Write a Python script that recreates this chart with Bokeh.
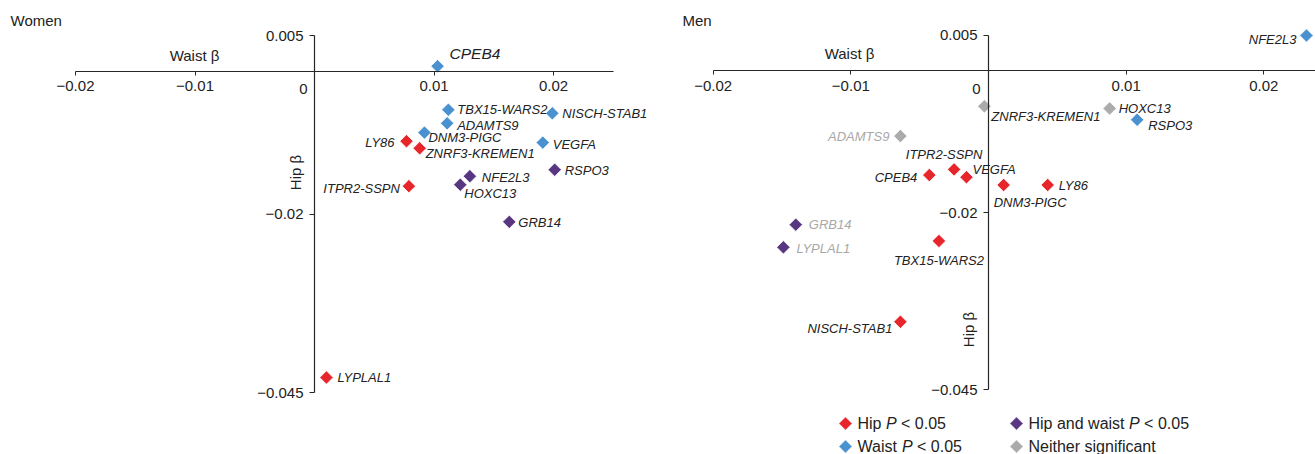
import numpy as np
from bokeh.plotting import figure
from bokeh.models import Range1d, FixedTicker, Label, ColumnDataSource
from bokeh.layouts import row
from bokeh.core.properties import value
from bokeh.embed import file_html
from bokeh.resources import INLINE

FONT = "Liberation Sans"

# ---------------- data ----------------
category_colors = {"hip": "#E6262B", "waist": "#4A92CF", "both": "#583681", "neither": "#ABABAB"}

women_genes = ["CPEB4", "TBX15-WARS2", "NISCH-STAB1", "ADAMTS9", "DNM3-PIGC", "LY86",
               "ZNRF3-KREMEN1", "VEGFA", "RSPO3", "NFE2L3", "HOXC13", "ITPR2-SSPN",
               "GRB14", "LYPLAL1"]
women_waist = [0.0103, 0.0112, 0.0199, 0.0111, 0.0092, 0.0077,
               0.0088, 0.0191, 0.0201, 0.0130, 0.0122, 0.0079,
               0.0163, 0.0010]
women_hip = [0.0007, -0.0054, -0.0059, -0.0073, -0.0086, -0.0098,
             -0.0108, -0.0100, -0.0138, -0.0147, -0.0159, -0.0161,
             -0.0211, -0.0429]
women_cat = ["waist", "waist", "waist", "waist", "waist", "hip",
             "hip", "waist", "both", "both", "both", "hip",
             "both", "hip"]

men_genes = ["NFE2L3", "HOXC13", "RSPO3", "ZNRF3-KREMEN1", "ADAMTS9", "ITPR2-SSPN",
             "CPEB4", "VEGFA", "DNM3-PIGC", "LY86", "GRB14", "LYPLAL1",
             "TBX15-WARS2", "NISCH-STAB1"]
men_waist = [0.0231, 0.0088, 0.0108, -0.0003, -0.0064, -0.0025,
             -0.0043, -0.0016, 0.0011, 0.0043, -0.0140, -0.0149,
             -0.0036, -0.0064]
men_hip = [0.0050, -0.0053, -0.0069, -0.0050, -0.0092, -0.0139,
           -0.0147, -0.0150, -0.0161, -0.0161, -0.0217, -0.0249,
           -0.0240, -0.0354]
men_cat = ["waist", "neither", "waist", "neither", "neither", "hip",
           "hip", "hip", "hip", "hip", "both", "both",
           "hip", "hip"]

x_ticks = [-0.02, -0.01, 0, 0.01, 0.02]
x_tick_labels = ["\u22120.02", "\u22120.01", "0", "0.01", "0.02"]
y_ticks = [0.005, -0.02, -0.045]
y_tick_labels = ["0.005", "\u22120.02", "\u22120.045"]

legend_cats = ["hip", "both", "waist", "neither"]
legend_parts = [("Hip ", "P", " < 0.05"), ("Hip and waist ", "P", " < 0.05"),
                ("Waist ", "P", " < 0.05"), ("Neither significant", "", "")]

# ---------------- label placement (pixels) ----------------
women_label_layout = {
    "CPEB4": (12, -13, "left"), "TBX15-WARS2": (9, 0, "left"), "NISCH-STAB1": (10, 0, "left"),
    "ADAMTS9": (10, 2, "left"), "DNM3-PIGC": (4, 5, "left"), "LY86": (-12, 1, "right"),
    "ZNRF3-KREMEN1": (6, 5, "left"), "VEGFA": (10, 2, "left"), "RSPO3": (10, 1, "left"),
    "NFE2L3": (12, 1, "left"), "HOXC13": (4, 9, "left"), "ITPR2-SSPN": (-9, 2, "right"),
    "GRB14": (9, 1, "left"), "LYPLAL1": (11, 0, "left"),
}
men_label_layout = {
    "NFE2L3": (-10, 4, "right"), "HOXC13": (9, 0, "left"), "RSPO3": (11, 6, "left"),
    "ZNRF3-KREMEN1": (7, 10, "left"), "ADAMTS9": (-11, 0, "right"), "ITPR2-SSPN": (-10, -15, "center"),
    "CPEB4": (-12, 2, "right"), "VEGFA": (6, -8, "left"), "DNM3-PIGC": (-10, 18, "left"),
    "LY86": (11, 1, "left"), "GRB14": (13, 0, "left"), "LYPLAL1": (13, 1, "left"),
    "TBX15-WARS2": (0, 20, "center"), "NISCH-STAB1": (-8, 7, "right"),
}
women_big_labels = {"CPEB4"}
men_grey_labels = {"ADAMTS9", "GRB14", "LYPLAL1"}

# Arial / Liberation Sans advance widths (per 1000 em)
ARIAL_W = {"H": 722, "i": 222, "p": 556, " ": 278, "P": 667, "<": 584, "0": 556, ".": 278,
           "5": 556, "a": 556, "n": 556, "d": 556, "w": 722, "s": 500, "t": 278, "W": 944,
           "N": 722, "e": 556, "h": 556, "r": 333, "g": 556, "f": 278, "c": 500}


def text_width(s, size):
    return sum(ARIAL_W.get(ch, 556) for ch in s) * size / 1000.0


PAGE_TOP = 0
FIG_H = 454


def make_panel(genes, waist, hip, cats, layout, big, grey, geom, title, waist_lab_px, hip_lab_px, zero_px):
    left, width, x0, xs, y0, ys = geom
    px2x = lambda px: (px - x0) / xs
    py2y = lambda py: (y0 - py) / ys
    p = figure(width=width, height=FIG_H, output_backend="svg", toolbar_location=None,
               x_range=Range1d(px2x(left), px2x(left + width)),
               y_range=Range1d(py2y(PAGE_TOP + FIG_H), py2y(PAGE_TOP)),
               min_border=0, min_border_left=0, min_border_right=0,
               min_border_top=0, min_border_bottom=0,
               outline_line_color=None, background_fill_color="white",
               border_fill_color="white")
    p.xgrid.visible = False
    p.ygrid.visible = False

    for ax in (p.xaxis, p.yaxis):
        ax.fixed_location = 0
        ax.axis_line_color = "#262626"
        ax.axis_line_width = 1.2
        ax.major_tick_line_color = "#262626"
        ax.major_tick_in = 0
        ax.minor_tick_line_color = None
        ax.major_label_text_font = FONT
        ax.major_label_text_font_size = "15px"
        ax.major_label_text_color = "#222222"
    p.xaxis.ticker = FixedTicker(ticks=x_ticks)
    p.xaxis.major_label_overrides = {t: (lab if t != 0 else "") for t, lab in zip(x_ticks, x_tick_labels)}
    p.xaxis.bounds = (-0.02, 0.025)
    p.xaxis.major_tick_out = 4
    p.xaxis.major_label_standoff = 6
    p.yaxis.ticker = FixedTicker(ticks=y_ticks)
    p.yaxis.major_label_overrides = {t: lab for t, lab in zip(y_ticks, y_tick_labels)}
    p.yaxis.bounds = (-0.045, 0.005)
    p.yaxis.major_tick_out = 5
    p.yaxis.major_label_standoff = 6

    # the "0" tick label sits left of the vertical axis
    p.add_layout(Label(x=px2x(zero_px[0]), y=py2y(zero_px[1]), text=x_tick_labels[x_ticks.index(0)],
                       text_font=FONT, text_font_size="15px", text_color="#222222",
                       text_align="center", text_baseline="middle"))

    # points
    src = ColumnDataSource(dict(x=waist, y=hip, color=[category_colors[c] for c in cats]))
    p.scatter(x="x", y="y", source=src, marker="square", angle=np.pi / 4, size=9.5,
              fill_color="color", line_color="white", line_width=0.8)

    # gene labels grouped by alignment and size
    groups = {}
    for g, xv, yv in zip(genes, waist, hip):
        dx, dy, align = layout[g]
        size = "15.5px" if g in big else "13px"
        d = groups.setdefault((align, size), dict(x=[], y=[], text=[], dx=[], dy=[], color=[]))
        d["x"].append(xv)
        d["y"].append(yv)
        d["text"].append(g)
        d["dx"].append(dx)
        d["dy"].append(dy)
        d["color"].append("#A8A8A8" if g in grey else "#222222")
    for (align, size), d in groups.items():
        p.text(x="x", y="y", text="text", x_offset="dx", y_offset="dy", text_color="color",
               source=ColumnDataSource(d), text_align=align, text_baseline="middle",
               text_font=value(FONT), text_font_style="italic", text_font_size=size)

    # titles
    p.add_layout(Label(x=px2x(left + 10 if left == 0 else left + 12), y=py2y(20), text=title,
                       text_font=FONT, text_font_size="15px", text_color="#222222",
                       text_align="left", text_baseline="middle"))
    p.add_layout(Label(x=px2x(waist_lab_px[0]), y=py2y(waist_lab_px[1]), text="Waist \u03b2",
                       text_font=FONT, text_font_size="15px", text_color="#222222",
                       text_align="center", text_baseline="middle"))
    p.add_layout(Label(x=px2x(hip_lab_px[0]), y=py2y(hip_lab_px[1]), text="Hip \u03b2",
                       angle=np.pi / 2, text_font=FONT, text_font_size="15px", text_color="#222222",
                       text_align="center", text_baseline="middle"))
    return p, px2x, py2y


women_geom = (0, 670, 314.0, 11950.0, 70.7, 7140.0)
men_geom = (670, 645, 988.0, 13765.0, 70.4, 7086.0)

pw, _, _ = make_panel(women_genes, women_waist, women_hip, women_cat, women_label_layout,
                      women_big_labels, set(), women_geom, "Women", (194, 55), (295, 172), (303, 88))
pm, mx, my = make_panel(men_genes, men_waist, men_hip, men_cat, men_label_layout,
                        set(), men_grey_labels, men_geom, "Men", (849, 53), (968, 329), (976, 88))

# legend (2 x 2) drawn in the men panel's lower area
LEG_COL_PX = [845, 1016]
LEG_ROW_PX = [423, 446]
LEG_SIZE = 16
mk = dict(x=[], y=[], color=[])
normal = dict(x=[], y=[], text=[])
italic = dict(x=[], y=[], text=[])
for i, (cat, parts) in enumerate(zip(legend_cats, legend_parts)):
    cx = LEG_COL_PX[i % 2]
    cy = LEG_ROW_PX[i // 2]
    mk["x"].append(mx(cx))
    mk["y"].append(my(cy))
    mk["color"].append(category_colors[cat])
    tx = cx + 12
    for k, part in enumerate(parts):
        if not part:
            continue
        lead = len(part) - len(part.lstrip(" "))
        tx += text_width(" " * lead, LEG_SIZE)
        body = part.strip(" ")
        tgt = italic if k == 1 else normal
        tgt["x"].append(mx(tx)); tgt["y"].append(my(cy)); tgt["text"].append(body)
        tx += text_width(part.lstrip(" "), LEG_SIZE)

pm.scatter(x="x", y="y", source=ColumnDataSource(mk), marker="square", angle=np.pi / 4,
           size=9.5, fill_color="color", line_color="white", line_width=0.8)
pm.text(x="x", y="y", text="text", source=ColumnDataSource(normal), text_align="left",
        text_baseline="middle", text_font=value(FONT), text_font_size=f"{LEG_SIZE}px",
        text_color="#222222")
pm.text(x="x", y="y", text="text", source=ColumnDataSource(italic), text_align="left",
        text_baseline="middle", text_font=value(FONT), text_font_style="italic",
        text_font_size=f"{LEG_SIZE}px", text_color="#222222")

layout = row(pw, pm)
open("out.html", "w").write(file_html(layout, INLINE))
